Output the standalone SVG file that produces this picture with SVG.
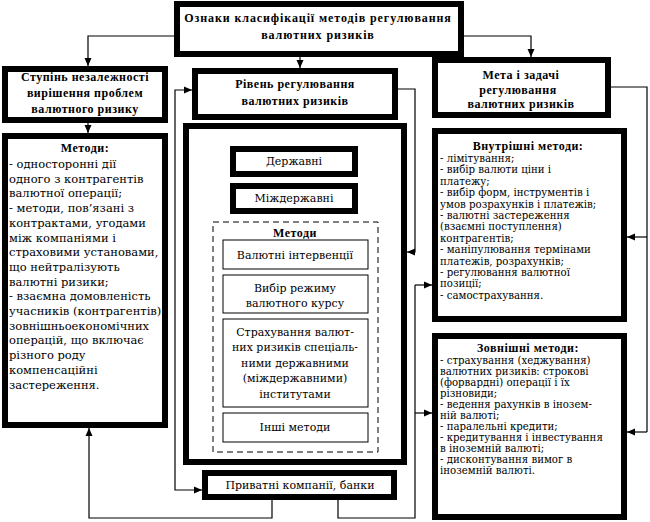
<svg xmlns="http://www.w3.org/2000/svg" width="650" height="522" viewBox="0 0 650 522">
<defs>
<marker id="ah" viewBox="0 0 8 8" refX="8" refY="4" markerWidth="8" markerHeight="8" markerUnits="userSpaceOnUse" orient="auto-start-reverse">
<path d="M0,0.5 L8,4 L0,7.5 Z" fill="#000"/>
</marker>
<style>
.thick{fill:#fff;stroke:#000;stroke-width:6}
.thin{fill:#fff;stroke:#000;stroke-width:1}
.dash{fill:none;stroke:#000;stroke-width:1;stroke-dasharray:6 4}
.c{fill:none;stroke:#000;stroke-width:1.2}
.a{marker-end:url(#ah)}
.b{font-family:"Liberation Serif",serif;font-weight:bold;font-size:12px;text-anchor:middle;letter-spacing:0.5px}
.t{letter-spacing:0.9px}
.m{font-family:"DejaVu Serif",serif;font-size:11px;text-anchor:middle}
.l{font-family:"DejaVu Serif",serif;font-size:11.5px}
.r{font-family:"DejaVu Serif",serif;font-size:10.2px}
</style>
</defs>
<rect width="650" height="522" fill="#fff"/>

<g id="connectors">
<path class="c a" d="M177,36 H88 V66"/>
<path class="c a" d="M300,57 V68"/>
<path class="c a" d="M461,36 H531 V57"/>
<path class="c a" d="M88,123 V133"/>
<path class="c a" d="M192,90 H175 V490 H202" style="marker-start:url(#ah)"/>
<path class="c a" d="M230,160 H194 V380 H213"/>
<path class="c a" d="M358,202 H397 V380 H378"/>
<path class="c a" d="M398,89 H415 V252 H407"/>
<path class="c" d="M338,500 V518 H415 V285"/>
<path class="c a" d="M415,285 H432"/>
<path class="c a" d="M415,413 H432"/>
<path class="c a" d="M272,500 V518 H89 V428"/>
<path class="c" d="M611,87 H647 V432"/>
<path class="c a" d="M647,432 H627"/>
<path class="c a" d="M647,237 H627"/>
</g>

<g id="top">
<rect class="thick" x="177" y="4" width="284" height="50"/>
<text class="b t" x="318" y="22">Ознаки  класифікації методів регулювання</text>
<text class="b t" x="318" y="39">валютних ризиків</text>
</g>

<g id="stupin">
<rect class="thick" x="5" y="69" width="160" height="51"/>
<text class="b" x="85" y="81">Ступінь незалежності</text>
<text class="b" x="85" y="97">вирішення проблем</text>
<text class="b" x="85" y="113">валютного ризику</text>
</g>

<g id="metody-left">
<rect class="thick" x="5" y="136" width="160" height="289"/>
<text class="b" x="85" y="152">Методи:</text>
<text class="l">
<tspan x="9" y="168">- односторонні дії</tspan>
<tspan x="9" y="182.7">одного з контрагентів</tspan>
<tspan x="9" y="197.4">валютної операції;</tspan>
<tspan x="9" y="212.1">- методи, пов’язані з</tspan>
<tspan x="9" y="226.8">контрактами, угодами</tspan>
<tspan x="9" y="241.5">між компаніями і</tspan>
<tspan x="9" y="256.2">страховими установами,</tspan>
<tspan x="9" y="270.9">що нейтралізують</tspan>
<tspan x="9" y="285.6">валютні ризики;</tspan>
<tspan x="9" y="300.3">- взаємна домовленість</tspan>
<tspan x="9" y="315">учасників (контрагентів)</tspan>
<tspan x="9" y="329.7">зовнішньоекономічних</tspan>
<tspan x="9" y="344.4">операцій, що включає</tspan>
<tspan x="9" y="359.1">різного роду</tspan>
<tspan x="9" y="373.8">компенсаційні</tspan>
<tspan x="9" y="388.5">застереження.</tspan>
</text>
</g>

<g id="riven">
<rect class="thick" x="195" y="71" width="200" height="46"/>
<text class="b" x="295" y="88">Рівень регулювання</text>
<text class="b" x="295" y="105">валютних ризиків</text>
</g>

<g id="big">
<rect class="thick" x="186" y="126" width="218" height="336"/>
</g>

<g id="derzhavni">
<rect class="thick" x="233" y="149" width="122" height="25"/>
<text class="m" x="294" y="165">Державні</text>
</g>

<g id="mizhderzhavni">
<rect class="thick" x="233" y="186" width="122" height="25"/>
<text class="m" x="294" y="202">Міждержавні</text>
</g>

<g id="metody-group">
<rect class="dash" x="213" y="222" width="165" height="230"/>
<text class="b" x="295" y="237">Методи</text>
</g>

<g id="intervencii">
<rect class="thin" x="223" y="240" width="145" height="29"/>
<text class="m" x="295" y="259">Валютні інтервенції</text>
</g>

<g id="rezhym">
<rect class="thin" x="223" y="275" width="145" height="38"/>
<text class="m" x="295" y="292">Вибір режиму</text>
<text class="m" x="295" y="307">валютного курсу</text>
</g>

<g id="strakhuvannia">
<rect class="thin" x="223" y="319" width="145" height="88"/>
<text class="m" x="295" y="336">Страхування валют-</text>
<text class="m" x="295" y="351">них ризиків спеціаль-</text>
<text class="m" x="295" y="367">ними державними</text>
<text class="m" x="295" y="382">(міждержавними)</text>
<text class="m" x="295" y="398">інститутами</text>
</g>

<g id="inshi">
<rect class="thin" x="223" y="413" width="145" height="29"/>
<text class="m" x="295" y="431">Інші методи</text>
</g>

<g id="pryvatni">
<rect class="thick" x="205" y="473" width="189" height="24"/>
<text class="m" x="300" y="489">Приватні компанії, банки</text>
</g>

<g id="meta">
<rect class="thick" x="435" y="60" width="173" height="55"/>
<text class="b" x="521" y="79">Мета і задачі</text>
<text class="b" x="518" y="94">регулювання</text>
<text class="b" x="521" y="108">валютних  ризиків</text>
</g>

<g id="vnutrishni">
<rect class="thick" x="435" y="131" width="189" height="188"/>
<text class="b" x="528" y="150">Внутрішні  методи:</text>
<text class="r">
<tspan x="440" y="162">- лімітування;</tspan>
<tspan x="440" y="173.4">- вибір валюти ціни і</tspan>
<tspan x="440" y="184.8">платежу;</tspan>
<tspan x="440" y="196.2">- вибір форм, інструментів  і</tspan>
<tspan x="440" y="207.6">умов розрахунків і платежів;</tspan>
<tspan x="440" y="219">- валютні застереження</tspan>
<tspan x="440" y="230.4">(взаємні поступлення)</tspan>
<tspan x="440" y="241.8">контрагентів;</tspan>
<tspan x="440" y="253.2">- маніпулювання термінами</tspan>
<tspan x="440" y="264.6">платежів, розрахунків;</tspan>
<tspan x="440" y="276">- регулювання валютної</tspan>
<tspan x="440" y="287.4">позиції;</tspan>
<tspan x="440" y="299">- самострахування.</tspan>
</text>
</g>

<g id="zovnishni">
<rect class="thick" x="435" y="336" width="189" height="181"/>
<text class="b" x="528" y="352">Зовнішні методи:</text>
<text class="r">
<tspan x="440" y="364">- страхування (хеджування)</tspan>
<tspan x="440" y="375">валютних ризиків: строкові</tspan>
<tspan x="440" y="386">(форвардні) операції і їх</tspan>
<tspan x="440" y="397">різновиди;</tspan>
<tspan x="440" y="408">- ведення рахунків в інозем-</tspan>
<tspan x="440" y="419">ній валюті;</tspan>
<tspan x="440" y="430">- паралельні кредити;</tspan>
<tspan x="440" y="441">- кредитування і інвестування</tspan>
<tspan x="440" y="452">в іноземній валюті;</tspan>
<tspan x="440" y="463">- дисконтування вимог в</tspan>
<tspan x="440" y="474">іноземній валюті.</tspan>
</text>
</g>
</svg>
